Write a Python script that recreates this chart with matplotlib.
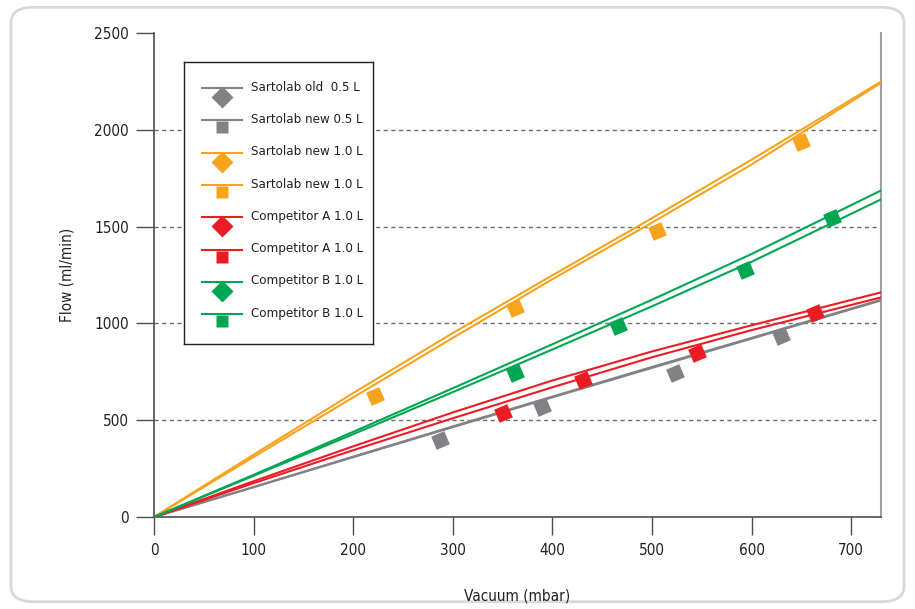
import matplotlib
matplotlib.use("Agg")
import matplotlib.pyplot as plt
from matplotlib.patches import FancyBboxPatch
from matplotlib.lines import Line2D

plt.rcParams['font.family'] = ['DejaVu Sans']
plt.rcParams['font.stretch'] = 'condensed'

GRAY = "#808285"
ORANGE = "#f6a31d"
RED = "#ec1c24"
GREEN = "#00a651"

# measured points (vacuum mbar, flow ml/min)
gray_x = [287, 390, 523, 630]
gray_y = [398, 568, 744, 935]
orange_x = [222, 363, 505, 650]
orange_y = [625, 1080, 1477, 1937]
red_x = [350, 431, 545, 664]
red_y = [537, 708, 847, 1054]
green_x = [363, 466, 593, 681]
green_y = [744, 987, 1276, 1544]

# fitted curves
fit_x = [0, 100, 200, 300, 400, 500, 600, 730]
gray_old_fit = [0, 155, 312, 468, 622, 775, 925, 1122]
gray_new_fit = [0, 154, 309, 464, 618, 770, 921, 1118]
orange_a_fit = [0, 322, 640, 950, 1248, 1543, 1845, 2248]
orange_b_fit = [0, 310, 618, 925, 1228, 1520, 1820, 2242]
red_a_fit = [0, 185, 365, 540, 705, 855, 990, 1160]
red_b_fit = [0, 175, 345, 510, 670, 825, 965, 1134]
green_a_fit = [0, 218, 440, 665, 892, 1122, 1358, 1686]
green_b_fit = [0, 213, 428, 645, 865, 1088, 1318, 1640]

legend_labels = ["Sartolab old  0.5 L", "Sartolab new 0.5 L", "Sartolab new 1.0 L",
                 "Sartolab new 1.0 L", "Competitor A 1.0 L", "Competitor A 1.0 L",
                 "Competitor B 1.0 L", "Competitor B 1.0 L"]
legend_colors = [GRAY, GRAY, ORANGE, ORANGE, RED, RED, GREEN, GREEN]

fig = plt.figure(figsize=(9.15, 6.09), dpi=100)

# rounded frame
fig.patches.append(FancyBboxPatch((0.012, 0.012), 0.976, 0.976, boxstyle="round,pad=0,rounding_size=0.025",
                                  transform=fig.transFigure, fc="white", ec="#d9d9d9", lw=2, zorder=-5))

ax = fig.add_axes([0.1683, 0.151, 0.7945, 0.795])
ax.set_facecolor("none")

for ys, c in [(gray_old_fit, GRAY), (gray_new_fit, GRAY), (orange_a_fit, ORANGE), (orange_b_fit, ORANGE),
              (red_a_fit, RED), (red_b_fit, RED), (green_a_fit, GREEN), (green_b_fit, GREEN)]:
    ax.plot(fit_x, ys, color=c, lw=1.5, zorder=3)

mk = (4, 0, 68)
for xs, ys, c in [(gray_x, gray_y, GRAY), (orange_x, orange_y, ORANGE),
                  (red_x, red_y, RED), (green_x, green_y, GREEN)]:
    ax.plot(xs, ys, ls="none", marker=mk, ms=14.5, color=c, mec="none", zorder=4)

ax.set_xlim(0, 730)
ax.set_ylim(0, 2500)
ax.set_xticks(range(0, 701, 100))
ax.set_yticks(range(0, 2501, 500))
for v in [500, 1000, 1500, 2000]:
    ax.axhline(v, color="#6d6e71", lw=1, ls=(0, (3, 2.5)), zorder=1)

ax.spines["top"].set_visible(False)
ax.spines["left"].set_color("#4d4d4f")
ax.spines["bottom"].set_color("#4d4d4f")
ax.spines["right"].set_color("#9d9fa2")
ax.spines["left"].set_linewidth(1.2)
ax.spines["bottom"].set_linewidth(1.2)
ax.spines["right"].set_linewidth(1.5)
ax.tick_params(axis="both", direction="out", length=13, width=1, color="#4d4d4f",
               labelsize=11, labelcolor="#231f20", pad=6)
ax.tick_params(axis="y", pad=5)

ax.set_xlabel("Vacuum (mbar)", fontsize=11, color="#231f20", labelpad=22)
ax.set_ylabel("Flow (ml/min)", fontsize=11, color="#231f20", labelpad=14)

# legend box drawn by hand (line with marker hanging underneath)
lax = fig.add_axes([0.201, 0.435, 0.207, 0.463])
lax.set_xlim(0, 189)
lax.set_ylim(282, 0)
lax.set_xticks([])
lax.set_yticks([])
for s in lax.spines.values():
    s.set_color("#231f20")
    s.set_linewidth(1)
for i, (lab, c) in enumerate(zip(legend_labels, legend_colors)):
    y = 26 + i * 32.3
    lax.add_line(Line2D([18, 58], [y, y], color=c, lw=1.5))
    if i % 2 == 0:
        lax.plot(38, y + 9, marker="D", ms=11, color=c, mec="none")
    else:
        lax.plot(38, y + 7, marker="s", ms=9, color=c, mec="none")
    lax.text(67, y - 1, lab, fontsize=9.5, color="#231f20", va="center", ha="left")

fig.savefig("out.png", dpi=100)
